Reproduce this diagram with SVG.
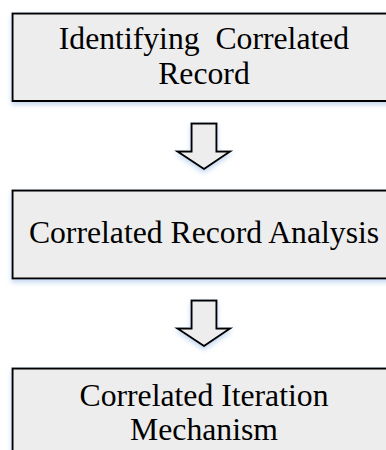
<svg xmlns="http://www.w3.org/2000/svg" width="386" height="450" viewBox="0 0 386 450">
<style>
.box{fill:#ededed;stroke:#000;stroke-width:2}
.arr{fill:#ededed;stroke:#000;stroke-width:2;stroke-linejoin:miter}
.t{font-family:"Liberation Serif","Times New Roman",serif;font-size:31.7px;fill:#000;text-anchor:middle;white-space:pre}
</style>
<defs>
<filter id="sh" x="-10%" y="-10%" width="120%" height="130%">
<feGaussianBlur in="SourceAlpha" stdDeviation="2.5"/>
<feOffset dy="3" result="b"/>
<feFlood flood-color="#9fbfe6" flood-opacity="0.6"/>
<feComposite in2="b" operator="in"/>
<feMerge><feMergeNode/><feMergeNode in="SourceGraphic"/></feMerge>
</filter>
</defs>
<g id="node1">
<rect class="box" x="12.5" y="13.5" width="385" height="87.5" filter="url(#sh)"/>
<text class="t" x="204" y="49.3">Identifying  Correlated</text>
<text class="t" x="204" y="84.3">Record</text>
</g>
<g id="node2">
<rect class="box" x="12.5" y="190.5" width="385" height="88" filter="url(#sh)"/>
<text class="t" x="204" y="243.3">Correlated Record Analysis</text>
</g>
<g id="node3">
<rect class="box" x="12.5" y="368.5" width="385" height="100" filter="url(#sh)"/>
<text class="t" x="204" y="406">Correlated Iteration</text>
<text class="t" x="204" y="440">Mechanism</text>
</g>
<g id="connectors">
<path class="arr" filter="url(#sh)" d="M191.5,123.5 H216.5 V151.5 H230 L204,169 L177.5,151.5 H191.5 Z"/>
<path class="arr" filter="url(#sh)" d="M191.5,300.5 H216.5 V328.5 H230 L204,346 L177.5,328.5 H191.5 Z"/>
</g>
</svg>
